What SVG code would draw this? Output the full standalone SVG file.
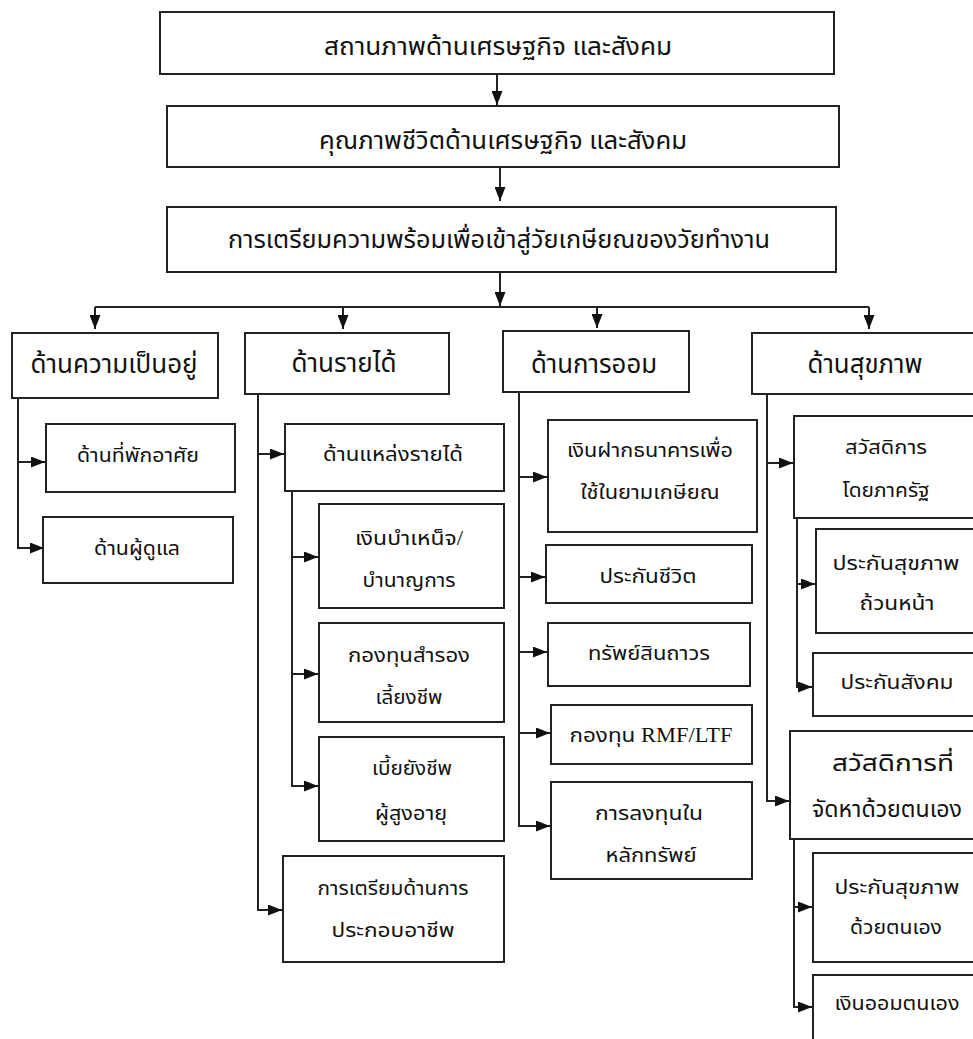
<svg xmlns="http://www.w3.org/2000/svg" width="973" height="1039" viewBox="0 0 973 1039">
<style>
.box{fill:#fff;stroke:#222;stroke-width:2}
.t{font-family:"Liberation Serif","Noto Sans Thai",serif;fill:#111;text-anchor:middle}
.big{font-size:24px}
.h{font-size:26px}
.m{font-size:23px}
.s{font-size:20px}
.c{fill:none;stroke:#222;stroke-width:2}
</style>
<defs>
<marker id="ah" markerUnits="userSpaceOnUse" markerWidth="14" markerHeight="11" refX="14" refY="5.5" orient="auto" viewBox="0 0 14 11">
<path d="M0,0 L14,5.5 L0,11 z" fill="#111"/>
</marker>
</defs>
<rect width="973" height="1039" fill="#fff"/>
<g id="connectors">
<path class="c" d="M497,74 V105" marker-end="url(#ah)"/>
<path class="c" d="M500,167 V201" marker-end="url(#ah)"/>
<path class="c" d="M500,272 V306" marker-end="url(#ah)"/>
<path class="c" d="M95,307 H869"/>
<path class="c" d="M95,307 V329" marker-end="url(#ah)"/>
<path class="c" d="M343,307 V329" marker-end="url(#ah)"/>
<path class="c" d="M597,307 V328" marker-end="url(#ah)"/>
<path class="c" d="M869,307 V329" marker-end="url(#ah)"/>
<path class="c" d="M18,398 V548 H44" marker-end="url(#ah)"/>
<path class="c" d="M18,462 H45" marker-end="url(#ah)"/>
<path class="c" d="M258,394 V910 H282" marker-end="url(#ah)"/>
<path class="c" d="M258,454 H284" marker-end="url(#ah)"/>
<path class="c" d="M292,491 V786 H318" marker-end="url(#ah)"/>
<path class="c" d="M292,557 H318" marker-end="url(#ah)"/>
<path class="c" d="M292,674 H318" marker-end="url(#ah)"/>
<path class="c" d="M519,392 V826 H550" marker-end="url(#ah)"/>
<path class="c" d="M519,477 H547" marker-end="url(#ah)"/>
<path class="c" d="M519,577 H545" marker-end="url(#ah)"/>
<path class="c" d="M519,652 H547" marker-end="url(#ah)"/>
<path class="c" d="M519,733 H550" marker-end="url(#ah)"/>
<path class="c" d="M767,394 V801 H789" marker-end="url(#ah)"/>
<path class="c" d="M767,463 H793" marker-end="url(#ah)"/>
<path class="c" d="M797,518 V687 H812" marker-end="url(#ah)"/>
<path class="c" d="M797,584 H815" marker-end="url(#ah)"/>
<path class="c" d="M794,839 V1007 H812" marker-end="url(#ah)"/>
<path class="c" d="M794,907 H812" marker-end="url(#ah)"/>
</g>
<g id="n1"><rect class="box" x="160" y="12" width="674" height="62"/><text class="t big" x="498" y="55" textLength="348" lengthAdjust="spacingAndGlyphs">สถานภาพด้านเศรษฐกิจ และสังคม</text></g>
<g id="n2"><rect class="box" x="167" y="106" width="672" height="61"/><text class="t big" x="503" y="149" textLength="368" lengthAdjust="spacingAndGlyphs">คุณภาพชีวิตด้านเศรษฐกิจ และสังคม</text></g>
<g id="n3"><rect class="box" x="167" y="207" width="669" height="65"/><text class="t big" x="499" y="248" textLength="542" lengthAdjust="spacingAndGlyphs">การเตรียมความพร้อมเพื่อเข้าสู่วัยเกษียณของวัยทำงาน</text></g>
<g id="n4"><rect class="box" x="12" y="333" width="206" height="65"/><text class="t h" x="114" y="373" textLength="167" lengthAdjust="spacingAndGlyphs">ด้านความเป็นอยู่</text></g>
<g id="n5"><rect class="box" x="245" y="333" width="204" height="61"/><text class="t h" x="344" y="372" textLength="105" lengthAdjust="spacingAndGlyphs">ด้านรายได้</text></g>
<g id="n6"><rect class="box" x="503" y="331" width="186" height="61"/><text class="t h" x="594" y="373" textLength="126" lengthAdjust="spacingAndGlyphs">ด้านการออม</text></g>
<g id="n7"><rect class="box" x="752" y="333" width="233" height="61"/><text class="t h" x="865" y="373" textLength="115" lengthAdjust="spacingAndGlyphs">ด้านสุขภาพ</text></g>
<g id="n8"><rect class="box" x="46" y="424" width="189" height="68"/><text class="t s" x="138" y="462" textLength="122" lengthAdjust="spacingAndGlyphs">ด้านที่พักอาศัย</text></g>
<g id="n9"><rect class="box" x="43" y="517" width="190" height="66"/><text class="t s" x="137" y="555" textLength="86" lengthAdjust="spacingAndGlyphs">ด้านผู้ดูแล</text></g>
<g id="n10"><rect class="box" x="285" y="424" width="219" height="67"/><text class="t s" x="393" y="461" textLength="140" lengthAdjust="spacingAndGlyphs">ด้านแหล่งรายได้</text></g>
<g id="n11"><rect class="box" x="319" y="504" width="185" height="104"/><text class="t s" x="409" y="545" textLength="108" lengthAdjust="spacingAndGlyphs">เงินบำเหน็จ/</text><text class="t s" x="409" y="587" textLength="93" lengthAdjust="spacingAndGlyphs">บำนาญการ</text></g>
<g id="n12"><rect class="box" x="319" y="623" width="185" height="99"/><text class="t s" x="409" y="662" textLength="122" lengthAdjust="spacingAndGlyphs">กองทุนสำรอง</text><text class="t s" x="409" y="704" textLength="67" lengthAdjust="spacingAndGlyphs">เลี้ยงชีพ</text></g>
<g id="n13"><rect class="box" x="319" y="737" width="185" height="104"/><text class="t s" x="412" y="775" textLength="80" lengthAdjust="spacingAndGlyphs">เบี้ยยังชีพ</text><text class="t s" x="411" y="820" textLength="72" lengthAdjust="spacingAndGlyphs">ผู้สูงอายุ</text></g>
<g id="n14"><rect class="box" x="283" y="856" width="221" height="106"/><text class="t s" x="393" y="895" textLength="151" lengthAdjust="spacingAndGlyphs">การเตรียมด้านการ</text><text class="t s" x="393" y="937" textLength="123" lengthAdjust="spacingAndGlyphs">ประกอบอาชีพ</text></g>
<g id="n15"><rect class="box" x="548" y="420" width="209" height="112"/><text class="t s" x="650" y="457" textLength="166" lengthAdjust="spacingAndGlyphs">เงินฝากธนาคารเพื่อ</text><text class="t s" x="650" y="499" textLength="139" lengthAdjust="spacingAndGlyphs">ใช้ในยามเกษียณ</text></g>
<g id="n16"><rect class="box" x="546" y="545" width="206" height="58"/><text class="t s" x="648" y="583" textLength="97" lengthAdjust="spacingAndGlyphs">ประกันชีวิต</text></g>
<g id="n17"><rect class="box" x="548" y="623" width="202" height="63"/><text class="t s" x="649" y="660" textLength="122" lengthAdjust="spacingAndGlyphs">ทรัพย์สินถาวร</text></g>
<g id="n18"><rect class="box" x="551" y="705" width="201" height="59"/><text class="t s" x="651" y="742" textLength="163" lengthAdjust="spacingAndGlyphs">กองทุน RMF/LTF</text></g>
<g id="n19"><rect class="box" x="551" y="782" width="201" height="97"/><text class="t s" x="649" y="820" textLength="108" lengthAdjust="spacingAndGlyphs">การลงทุนใน</text><text class="t s" x="651" y="862" textLength="91" lengthAdjust="spacingAndGlyphs">หลักทรัพย์</text></g>
<g id="n20"><rect class="box" x="794" y="416" width="191" height="102"/><text class="t s" x="886" y="454" textLength="82" lengthAdjust="spacingAndGlyphs">สวัสดิการ</text><text class="t s" x="886" y="497" textLength="87" lengthAdjust="spacingAndGlyphs">โดยภาครัฐ</text></g>
<g id="n21"><rect class="box" x="816" y="529" width="169" height="104"/><text class="t s" x="896" y="570" textLength="127" lengthAdjust="spacingAndGlyphs">ประกันสุขภาพ</text><text class="t s" x="897" y="610" textLength="75" lengthAdjust="spacingAndGlyphs">ถ้วนหน้า</text></g>
<g id="n22"><rect class="box" x="813" y="653" width="172" height="63"/><text class="t s" x="897" y="689" textLength="113" lengthAdjust="spacingAndGlyphs">ประกันสังคม</text></g>
<g id="n23"><rect class="box" x="790" y="731" width="195" height="108"/><text class="t m" x="893" y="771" textLength="122" lengthAdjust="spacingAndGlyphs">สวัสดิการที่</text><text class="t m" x="887" y="817" textLength="150" lengthAdjust="spacingAndGlyphs">จัดหาด้วยตนเอง</text></g>
<g id="n24"><rect class="box" x="813" y="853" width="172" height="109"/><text class="t s" x="897" y="894" textLength="125" lengthAdjust="spacingAndGlyphs">ประกันสุขภาพ</text><text class="t s" x="896" y="934" textLength="92" lengthAdjust="spacingAndGlyphs">ด้วยตนเอง</text></g>
<g id="n25"><rect class="box" x="813" y="975" width="172" height="80"/><text class="t s" x="897" y="1010" textLength="125" lengthAdjust="spacingAndGlyphs">เงินออมตนเอง</text></g>
</svg>
